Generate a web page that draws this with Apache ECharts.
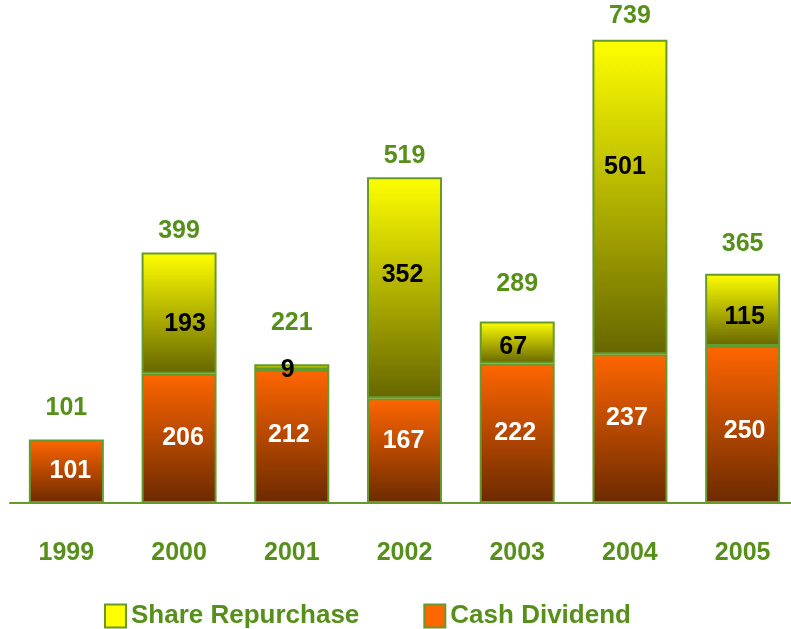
<!DOCTYPE html>
<html><head><meta charset="utf-8">
<script src="https://cdn.jsdelivr.net/npm/echarts@6/dist/echarts.min.js"></script>
<style>html,body{margin:0;padding:0;background:#fff;overflow:hidden}#c{width:800px;height:629px}</style>
</head><body><div id="c"></div>
<script>
var years = ['1999','2000','2001','2002','2003','2004','2005'];
var cashDividend = [101, 206, 212, 167, 222, 237, 250];
var shareRepurchase = [0, 193, 9, 352, 67, 501, 115];
var totals = [101, 399, 221, 519, 289, 739, 365];

// label layout offsets (pixels), styling only
var totalOffsets = [[0, -19], [0, -9], [0, -29], [0, -9], [0, -25], [0, -10], [0, -17]];
var cashOffsets = [[4, 0], [4, 0], [-3, -1], [-1, -9], [-2, 0], [-3, -10], [2, 7]];
var repOffsets = [[0, 0], [6, 11], [-4, 3], [-2, -13], [-4, 5], [-5, -30], [2, 7]];
var green = '#578f1b';
var border = '#669a2a';
var font = 'Liberation Sans';

var chart = echarts.init(document.getElementById('c'));
chart.setOption({
  animation: false,
  grid: {left: 10, top: 39, right: 1, height: 464},
  legend: {
    top: 598, left: 99, itemGap: 64, icon: 'rect', itemWidth: 21, itemHeight: 23,
    textStyle: {color: green, fontSize: 26, fontWeight: 'bold', fontFamily: font},
    data: [
      {name: 'Share Repurchase', itemStyle: {color: '#ffff00', borderColor: border, borderWidth: 2}},
      {name: 'Cash Dividend', itemStyle: {color: '#ff6600', borderColor: border, borderWidth: 2}}
    ]
  },
  xAxis: {
    type: 'category', data: years,
    axisLine: {lineStyle: {color: border, width: 2}},
    axisTick: {show: false},
    axisLabel: {color: green, fontSize: 25, fontWeight: 'bold', fontFamily: font, margin: 38}
  },
  yAxis: {type: 'value', min: 0, max: 739, show: false, splitLine: {show: false}},
  series: [
    {
      name: 'Cash Dividend', type: 'bar', stack: 's', barWidth: 75,
      data: cashDividend.map(function (v, i) {
        return {value: v, label: {offset: cashOffsets[i]}};
      }),
      itemStyle: {
        borderColor: border, borderWidth: 2,
        color: new echarts.graphic.LinearGradient(0, 0, 0, 1, [
          {offset: 0, color: '#ff6600'}, {offset: 1, color: '#6b2a00'}])
      },
      label: {show: true, position: 'inside', color: '#fff', fontSize: 25, fontWeight: 'bold', fontFamily: font}
    },
    {
      name: 'Share Repurchase', type: 'bar', stack: 's', barWidth: 75,
      data: shareRepurchase.map(function (v, i) {
        return v === 0 ? '-' : {value: v, label: {offset: repOffsets[i]}};
      }),
      itemStyle: {
        borderColor: border, borderWidth: 2,
        color: new echarts.graphic.LinearGradient(0, 0, 0, 1, [
          {offset: 0, color: '#ffff00'}, {offset: 1, color: '#666600'}])
      },
      label: {show: true, position: 'inside', color: '#000', fontSize: 25, fontWeight: 'bold', fontFamily: font}
    },
    {
      name: 'Total', type: 'scatter', symbolSize: 0,
      itemStyle: {opacity: 1},
      data: totals.map(function (v, i) {
        return {value: v, label: {offset: totalOffsets[i]}};
      }),
      label: {show: true, position: 'top', distance: 0, opacity: 1, color: green, fontSize: 25, fontWeight: 'bold', fontFamily: font,
        formatter: function (p) { return p.value; }}
    }
  ]
});
</script></body></html>
